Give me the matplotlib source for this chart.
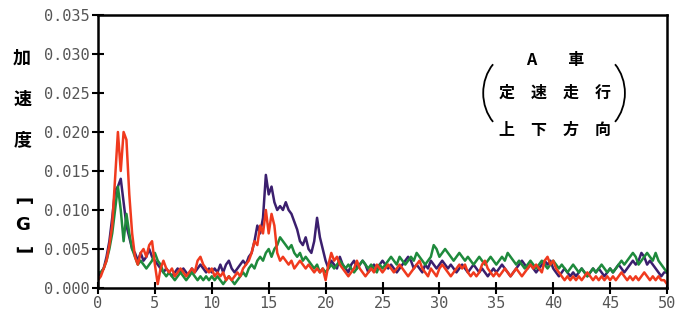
import numpy as np
import matplotlib.pyplot as plt
from matplotlib.patches import Arc

# 周波数 0-50 Hz, 0.25 Hz 刻み
freq = np.arange(0, 50.01, 0.25)

# 加速度 (単位 0.001 G)
purple = [
    1.5, 2.0, 2.5, 4.0, 6.0, 9.0, 12.5, 13.0, 14.0, 11.0, 8.0, 6.5, 5.0, 4.5, 3.5, 4.5, 3.5, 4.0, 5.0, 4.0,
    3.5, 3.0, 2.5, 2.0, 2.5, 2.0, 1.5, 2.0, 2.5, 2.0, 2.5, 2.0, 1.5, 2.5, 2.0, 2.5, 3.0, 2.5, 2.0, 2.5,
    2.0, 2.5, 2.0, 3.0, 2.0, 3.0, 3.5, 2.5, 2.0, 2.5, 3.0, 3.5, 3.0, 4.0, 4.5, 6.0, 8.0, 7.0, 9.0, 14.5,
    12.0, 13.0, 11.0, 10.0, 10.5, 10.0, 11.0, 10.0, 9.5, 8.5, 7.5, 6.0, 5.5, 6.5, 5.0, 4.5, 6.0, 9.0, 6.5, 5.0,
    3.5, 2.5, 3.5, 3.0, 2.5, 4.0, 3.0, 2.5, 2.0, 3.0, 3.5, 2.5, 3.0, 3.5, 3.0, 2.0, 2.5, 3.0, 2.5, 3.0,
    3.5, 3.0, 2.5, 3.0, 2.5, 2.0, 2.5, 3.0, 3.5, 4.0, 3.5, 2.5, 3.0, 2.5, 2.0, 3.0, 2.5, 3.5, 3.0, 2.5,
    3.0, 3.5, 3.0, 2.5, 3.0, 2.5, 2.0, 2.5, 3.0, 2.5, 2.0, 2.5, 3.0, 2.5, 2.0, 2.5, 2.0, 1.5, 2.0, 2.5,
    2.0, 2.5, 3.0, 2.5, 2.0, 1.5, 2.0, 2.5, 3.0, 3.5, 3.0, 2.5, 3.0, 2.5, 2.0, 2.5, 3.0, 3.5, 3.0, 3.5,
    2.5, 2.0, 1.5, 2.0, 2.5, 2.0, 1.5, 2.0, 1.5, 2.0, 2.5, 2.0, 1.5, 2.0, 2.5, 2.0, 2.5, 2.0, 1.5, 2.0,
    2.5, 2.0, 2.5, 3.0, 2.5, 2.0, 2.5, 3.0, 3.5, 3.0, 3.5, 4.5, 4.0, 3.0, 3.5, 3.0, 2.5, 2.0, 1.5, 2.0,
    2.0]
green = [
    2.0, 2.0, 2.5, 3.5, 5.0, 7.0, 10.0, 13.0, 10.0, 6.0, 9.5, 7.0, 5.0, 4.0, 3.0, 3.5, 3.0, 2.5, 3.0, 3.5,
    4.5, 3.5, 3.0, 2.0, 1.5, 2.0, 1.5, 1.0, 1.5, 2.0, 1.5, 1.0, 1.5, 2.0, 1.5, 1.0, 1.5, 1.0, 1.5, 1.0,
    1.5, 1.0, 1.5, 1.0, 0.5, 1.0, 1.5, 1.0, 0.5, 1.0, 1.5, 2.0, 1.5, 2.5, 3.0, 2.5, 3.5, 4.0, 3.5, 4.5,
    5.0, 4.0, 5.0, 5.5, 6.5, 6.0, 5.5, 5.0, 5.5, 4.5, 4.0, 4.5, 3.5, 4.0, 3.5, 3.0, 2.5, 3.0, 2.0, 2.5,
    2.0, 2.5, 3.0, 2.5, 3.0, 3.5, 3.0, 2.5, 3.0, 2.5, 2.0, 2.5, 3.0, 3.5, 3.0, 2.5, 3.0, 2.5, 2.0, 3.0,
    2.5, 3.0, 3.5, 4.0, 3.5, 3.0, 4.0, 3.5, 3.0, 3.5, 4.0, 3.5, 4.5, 4.0, 3.5, 3.0, 3.5, 4.0, 5.5, 5.0,
    4.0, 4.5, 5.0, 4.5, 4.0, 3.5, 4.0, 4.5, 4.0, 3.5, 4.0, 3.5, 3.0, 3.5, 4.0, 3.5, 3.0, 3.5, 4.0, 3.5,
    3.0, 3.5, 4.0, 3.5, 4.5, 4.0, 3.5, 3.0, 3.5, 3.0, 2.5, 3.0, 3.5, 3.0, 2.5, 3.0, 3.5, 3.0, 2.5, 3.0,
    3.5, 3.0, 2.5, 3.0, 2.5, 2.0, 2.5, 3.0, 2.5, 2.0, 2.5, 2.0, 1.5, 2.0, 2.5, 2.0, 2.5, 3.0, 2.5, 2.0,
    2.5, 2.0, 2.5, 3.0, 3.5, 3.0, 3.5, 4.0, 4.5, 4.0, 3.0, 3.5, 4.0, 4.5, 4.0, 3.5, 4.5, 3.5, 3.0, 2.5,
    2.0]
red = [
    1.0, 1.5, 2.5, 3.5, 5.5, 8.0, 14.0, 20.0, 15.0, 20.0, 19.0, 12.0, 7.0, 4.0, 3.0, 4.5, 5.0, 4.0, 5.5, 6.0,
    3.0, 0.5, 2.5, 3.5, 2.5, 2.0, 2.5, 1.5, 2.0, 2.5, 2.0, 1.5, 2.0, 2.5, 2.0, 3.5, 4.0, 3.0, 2.5, 2.0,
    2.5, 1.5, 2.0, 1.5, 2.0, 1.0, 1.5, 1.0, 1.5, 2.0, 1.5, 2.5, 3.0, 3.5, 4.5, 6.0, 5.5, 8.0, 7.0, 10.0,
    7.0, 9.5, 8.0, 4.5, 3.5, 4.0, 3.5, 3.0, 3.5, 2.5, 3.0, 3.5, 3.0, 2.5, 3.0, 2.5, 2.0, 2.5, 2.0, 2.5,
    1.0, 3.0, 4.5, 3.5, 4.0, 3.0, 2.5, 2.0, 1.5, 2.0, 2.5, 3.5, 2.5, 2.0, 1.5, 2.0, 2.5, 2.0, 3.0, 2.5,
    2.0, 2.5, 3.0, 2.5, 2.0, 2.5, 3.0, 2.5, 2.0, 1.5, 2.0, 2.5, 3.0, 3.5, 2.5, 2.0, 1.5, 2.5, 2.0, 1.5,
    2.5, 3.0, 2.5, 2.0, 1.5, 2.0, 2.5, 3.0, 2.5, 3.0, 2.0, 1.5, 2.0, 1.5, 2.0, 3.0, 3.5, 2.5, 2.0, 1.5,
    2.0, 1.5, 2.0, 2.5, 2.0, 1.5, 2.0, 2.5, 2.0, 1.5, 2.0, 2.5, 3.0, 2.5, 3.0, 2.5, 2.0, 3.5, 4.0, 3.0,
    3.5, 2.5, 2.0, 1.5, 1.0, 1.5, 1.0, 1.5, 1.0, 1.5, 1.0, 1.5, 2.0, 1.5, 1.0, 1.5, 1.0, 1.5, 1.0, 1.5,
    1.0, 1.5, 1.0, 1.5, 2.0, 1.5, 1.0, 1.5, 1.0, 1.5, 1.0, 1.5, 2.0, 1.5, 1.0, 1.5, 1.0, 1.5, 1.0, 1.0,
    0.5]

xticks = [0, 5, 10, 15, 20, 25, 30, 35, 40, 45, 50]
yticks = [0.000, 0.005, 0.010, 0.015, 0.020, 0.025, 0.030, 0.035]

jp = ['Noto Sans CJK JP', 'DejaVu Sans']

fig = plt.figure(figsize=(6.93, 3.22), dpi=100)
ax = fig.add_axes([0.1414, 0.1056, 0.8211, 0.8478])

ax.plot(freq, np.array(purple) / 1000, color='#3b1f6e', lw=1.8)
ax.plot(freq, np.array(green) / 1000, color='#1e8a3c', lw=1.8)
ax.plot(freq, np.array(red) / 1000, color='#f03a1e', lw=1.8)

ax.set_xlim(0, 50)
ax.set_ylim(0, 0.035)
ax.set_xticks(xticks)
ax.set_yticks(yticks)
ax.set_yticklabels(['%.3f' % v for v in yticks])
ax.tick_params(direction='inout', length=8, width=1.5, labelsize=11,
               labelcolor='#555555', pad=2)
for lab in ax.get_xticklabels() + ax.get_yticklabels():
    lab.set_family('DejaVu Sans Mono')
for s in ax.spines.values():
    s.set_linewidth(1.8)

# 縦書きの軸ラベル
for ch, y in zip(['加', '速', '度'], [0.82, 0.69, 0.565]):
    fig.text(0.032, y, ch, family=jp, fontsize=13, fontweight='bold',
             ha='center', va='center')
fig.text(0.032, 0.375, '[', family='DejaVu Sans', fontsize=13, fontweight='bold',
         ha='center', va='center', rotation=-90)
fig.text(0.032, 0.30, 'G', family='DejaVu Sans', fontsize=13, fontweight='bold',
         ha='center', va='center')
fig.text(0.032, 0.222, ']', family='DejaVu Sans', fontsize=13, fontweight='bold',
         ha='center', va='center', rotation=-90)

# 凡例代わりの注記
ax.text(0.803, 0.835, 'A　　車', transform=ax.transAxes, family=jp, fontsize=11.5,
        fontweight='bold', ha='center', va='center')
ax.text(0.803, 0.716, '定　速　走　行', transform=ax.transAxes, family=jp, fontsize=11.5,
        fontweight='bold', ha='center', va='center')
ax.text(0.803, 0.579, '上　下　方　向', transform=ax.transAxes, family=jp, fontsize=11.5,
        fontweight='bold', ha='center', va='center')
ax.add_patch(Arc((0.677 + 0.06, 0.714), 0.12, 0.30, theta1=112, theta2=248,
                 transform=ax.transAxes, lw=1.3, color='black'))
ax.add_patch(Arc((0.926 - 0.06, 0.714), 0.12, 0.30, theta1=-68, theta2=68,
                 transform=ax.transAxes, lw=1.3, color='black'))

fig.savefig('out.png', dpi=100)
